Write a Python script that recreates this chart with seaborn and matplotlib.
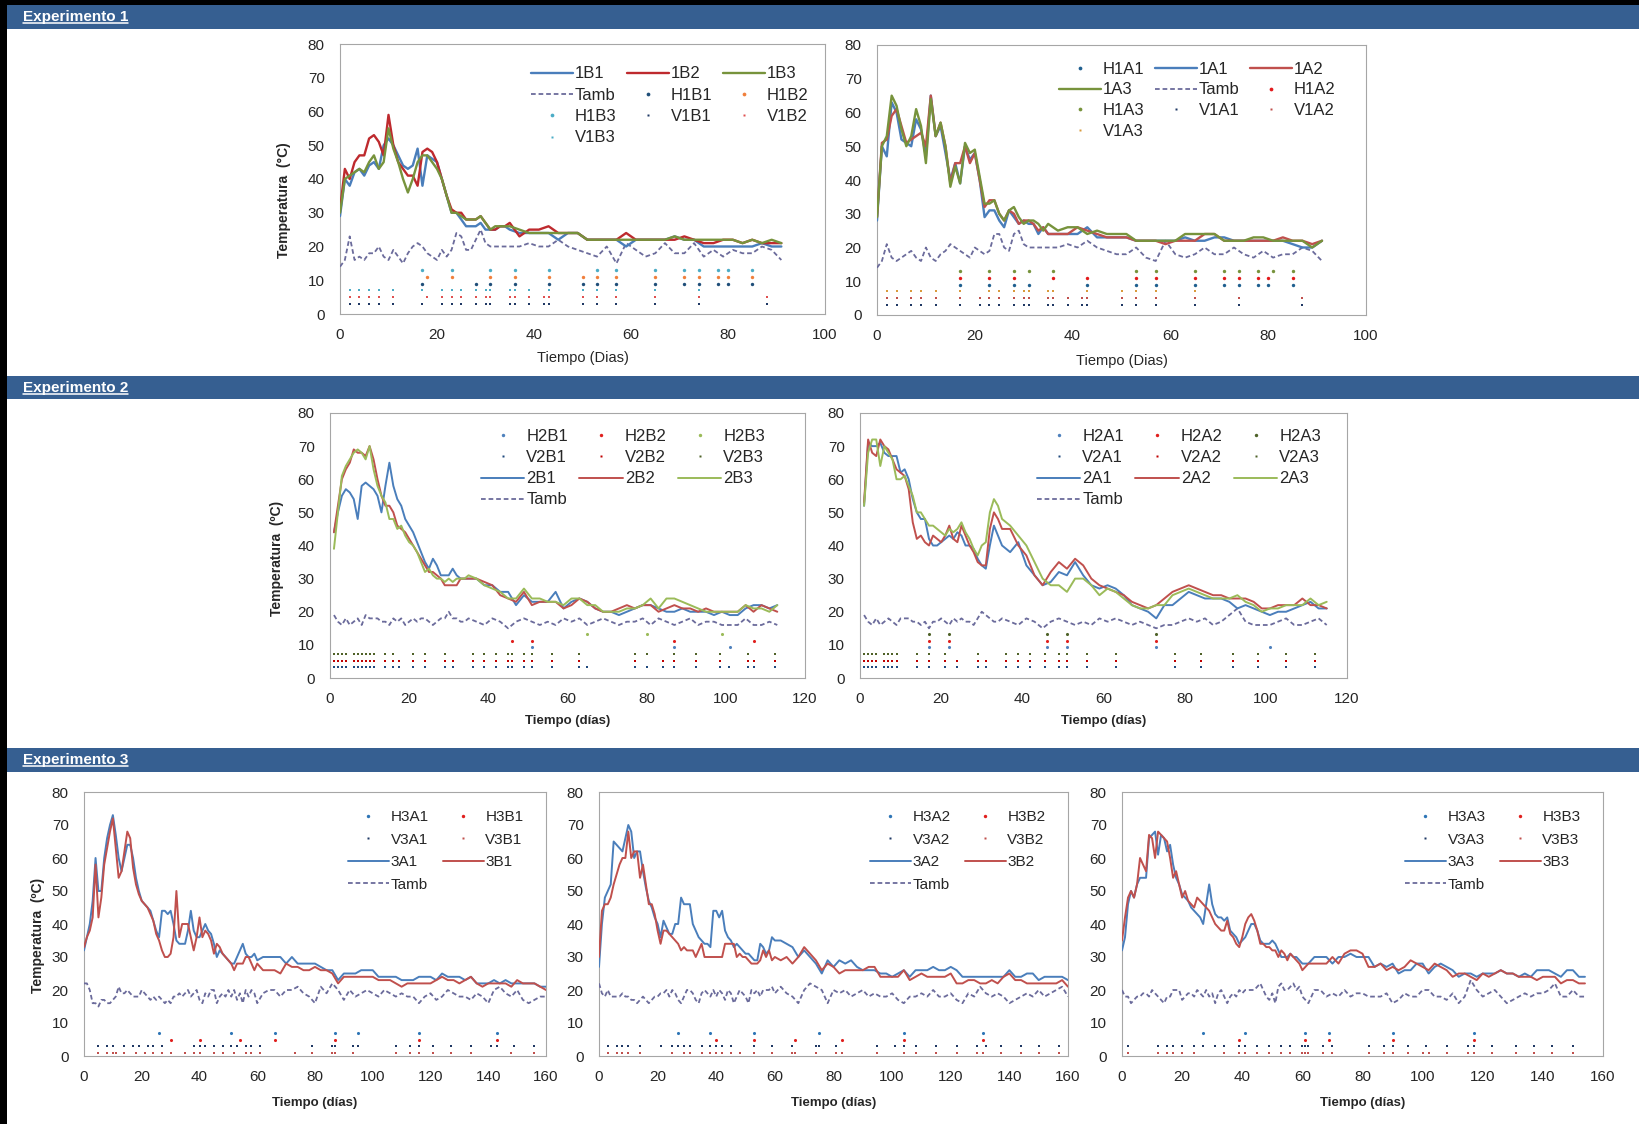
import numpy as np
import pandas as pd
import matplotlib
matplotlib.use("Agg")
import matplotlib.pyplot as plt
import seaborn as sns
from matplotlib.lines import Line2D
from matplotlib.patches import Rectangle

# ======================= DATA =======================
# ---- Experimento 1 ----
days_e1 = list(range(0, 36)) + list(range(37, 92, 2))
t_1B1 = [29, 40, 38, 42, 43, 41, 44, 45, 43, 50, 52, 50, 47, 44, 43, 44, 49, 38, 47, 46,
         45, 40, 35, 30, 30, 28, 26, 26, 26, 27, 25, 25, 25, 26, 26, 25,
         24, 24, 24, 24, 22, 24, 24, 22, 22, 22, 22, 20, 22, 22, 22, 22, 23, 22, 22, 20,
         20, 20, 20, 20, 20, 21, 20, 20]
t_1B2 = [31, 43, 40, 45, 47, 47, 52, 53, 51, 47, 59, 50, 45, 43, 41, 41, 38, 48, 49, 48,
         45, 40, 35, 31, 30, 30, 28, 28, 28, 29, 27, 25, 25, 26, 26, 27,
         23, 25, 25, 26, 24, 24, 24, 22, 22, 22, 22, 24, 22, 22, 22, 22, 22, 23, 22, 21,
         21, 22, 22, 21, 22, 21, 21, 21]
t_1B3 = [30, 40, 41, 42, 43, 42, 45, 47, 43, 45, 55, 49, 45, 40, 36, 40, 45, 47, 47, 45,
         43, 40, 35, 30, 30, 29, 28, 28, 28, 29, 27, 25, 26, 26, 26, 26,
         25, 24, 24, 24, 24, 24, 24, 22, 22, 22, 22, 22, 22, 22, 22, 22, 23, 22, 22, 22,
         22, 22, 22, 21, 22, 21, 22, 21]
tamb_1B = [14, 16, 23, 16, 17, 16, 18, 18, 20, 17, 16, 19, 17, 15, 18, 20, 21, 20, 18, 17,
           16, 19, 17, 19, 24, 23, 19, 19, 22, 25, 21, 20, 20, 20, 20, 20,
           20, 21, 20, 20, 22, 20, 19, 18, 17, 20, 15, 21, 19, 17, 18, 21, 18, 18, 21, 17,
           19, 17, 19, 18, 18, 20, 19, 16]
t_1A1 = [28, 50, 47, 63, 60, 52, 51, 50, 58, 55, 47, 65, 53, 56, 48, 40, 45, 39, 50, 46,
         48, 40, 29, 31, 31, 28, 26, 31, 29, 27, 28, 27, 27, 24, 26, 24,
         24, 24, 24, 26, 23, 23, 23, 23, 22, 22, 22, 22, 22, 23, 22, 22, 23, 23, 22, 22,
         22, 22, 22, 22, 21, 20, 20, 22]
t_1A2 = [29, 51, 52, 59, 61, 56, 51, 52, 53, 54, 50, 65, 53, 57, 50, 39, 45, 45, 50, 45,
         48, 40, 32, 34, 34, 30, 28, 31, 30, 27, 28, 28, 27, 25, 26, 24,
         24, 24, 26, 25, 24, 23, 23, 23, 22, 22, 22, 21, 22, 22, 22, 24, 24, 22, 22, 22,
         22, 22, 22, 23, 22, 22, 21, 22]
t_1A3 = [29, 50, 53, 65, 62, 55, 50, 53, 61, 56, 45, 64, 53, 57, 50, 38, 44, 39, 51, 48,
         49, 41, 33, 33, 34, 30, 28, 31, 32, 29, 27, 28, 28, 27, 25, 27,
         25, 26, 26, 24, 25, 24, 24, 24, 22, 22, 22, 22, 22, 24, 24, 24, 24, 22, 22, 22,
         23, 23, 22, 22, 22, 22, 20, 22]
tamb_1A = [14, 16, 21, 17, 16, 17, 18, 19, 17, 16, 20, 17, 16, 18, 19, 21, 20, 19, 18, 17,
           20, 19, 18, 19, 24, 24, 20, 19, 24, 25, 21, 20, 20, 20, 20, 20,
           20, 21, 20, 22, 20, 19, 18, 18, 20, 17, 16, 22, 18, 17, 18, 20, 18, 18, 20, 18,
           17, 19, 17, 18, 18, 20, 19, 16]
# event markers (day lists) and their plotting levels
h_1B1 = [17, 28, 31, 36, 43, 50, 53, 57, 65, 71, 74, 78, 80, 85]
h_1B2 = [18, 23, 31, 36, 43, 50, 53, 57, 65, 71, 74, 78, 80, 85]
h_1B3 = [17, 23, 31, 36, 43, 53, 57, 65, 71, 74, 78, 80, 85]
v_1B1 = [2, 4, 6, 8, 11, 17, 21, 23, 25, 28, 30, 31, 35, 36, 39, 42, 43, 50, 53, 57, 65, 74, 88]
v_1B2 = [2, 4, 6, 8, 11, 18, 21, 23, 25, 28, 30, 31, 35, 36, 39, 42, 43, 50, 53, 57, 65, 74, 88]
v_1B3 = [2, 4, 6, 8, 11, 17, 21, 23, 25, 28, 30, 31, 35, 36, 39, 43, 50, 53, 57, 65, 74]
h_1A1 = [17, 23, 28, 31, 43, 53, 57, 65, 71, 74, 78, 80, 85]
h_1A2 = [17, 23, 28, 36, 43, 53, 57, 65, 71, 74, 78, 80, 85]
h_1A3 = [17, 23, 28, 31, 36, 53, 57, 65, 71, 74, 78, 81, 85]
v_1A1 = [2, 4, 7, 9, 12, 17, 21, 23, 25, 28, 30, 31, 35, 36, 39, 42, 43, 50, 53, 57, 65, 74, 87]
v_1A2 = [2, 4, 7, 9, 12, 17, 21, 23, 25, 28, 30, 31, 35, 36, 39, 42, 43, 50, 53, 57, 65, 74, 87]
v_1A3 = [2, 4, 7, 9, 12, 17, 23, 25, 28, 30, 31, 35, 36, 43, 50, 53, 57, 65]
lev_e1 = {"H1": 9, "H2": 11, "H3": 13, "V1": 3, "V2": 5, "V3": 7}

# ---- Experimento 2 ----
days_e2B = list(range(1, 36)) + list(range(37, 114, 2))
t_2B1 = [44, 50, 55, 57, 56, 54, 48, 58, 59, 58, 57, 55, 50, 58, 65, 58, 54, 52, 48, 46,
         44, 41, 38, 35, 33, 36, 34, 31, 31, 31, 33, 31, 30, 30, 30,
         30, 28, 28, 26, 26, 22, 25, 23, 23, 23, 26, 21, 23, 24, 23, 21, 20, 20, 19, 20,
         21, 22, 22, 21, 20, 20, 21, 20, 20, 20, 19, 20, 19, 19, 21, 22, 22, 21, 22]
t_2B2 = [44, 52, 60, 63, 65, 69, 68, 68, 67, 70, 66, 60, 55, 52, 52, 50, 46, 45, 44, 42,
         40, 38, 36, 34, 32, 32, 31, 30, 28, 28, 28, 28, 30, 30, 30,
         30, 29, 28, 25, 24, 23, 26, 22, 23, 23, 23, 21, 22, 24, 23, 21, 20, 20, 21, 22,
         21, 22, 22, 20, 21, 22, 21, 21, 20, 21, 20, 20, 20, 20, 22, 20, 22, 21, 20]
t_2B3 = [39, 50, 61, 64, 66, 68, 69, 68, 66, 70, 63, 58, 55, 53, 48, 48, 45, 46, 43, 41,
         40, 38, 35, 32, 33, 31, 30, 30, 29, 30, 29, 30, 30, 30, 31,
         30, 28, 27, 26, 24, 24, 27, 24, 24, 23, 23, 22, 24, 24, 22, 22, 20, 20, 20, 21,
         21, 22, 24, 21, 24, 24, 23, 22, 21, 20, 20, 20, 20, 20, 22, 21, 21, 20, 22]
tamb_2B = [19, 17, 16, 18, 16, 17, 18, 16, 19, 18, 18, 18, 17, 17, 16, 18, 17, 18, 16, 17,
           18, 17, 18, 18, 17, 16, 17, 18, 18, 20, 18, 18, 17, 17, 18,
           17, 16, 18, 17, 15, 17, 18, 17, 16, 17, 16, 18, 17, 18, 16, 17, 18, 17, 16, 17,
           17, 18, 16, 18, 17, 16, 17, 18, 16, 17, 17, 16, 16, 16, 18, 16, 16, 17, 16]
days_e2A = list(range(1, 36)) + list(range(37, 116, 2))
t_2A1 = [52, 71, 70, 70, 71, 68, 67, 67, 67, 62, 63, 60, 54, 50, 48, 48, 42, 40, 40, 41,
         42, 43, 42, 44, 43, 40, 40, 39, 36, 34, 33, 40, 46, 43, 40,
         38, 41, 34, 31, 28, 29, 32, 31, 35, 31, 28, 27, 28, 27, 25, 22, 21, 20, 18, 22,
         22, 24, 26, 25, 24, 24, 24, 23, 21, 22, 21, 20, 19, 20, 20, 21, 22, 23, 21, 21]
t_2A2 = [53, 72, 68, 67, 72, 70, 69, 66, 63, 62, 61, 57, 47, 42, 43, 41, 40, 43, 42, 41,
         43, 46, 42, 41, 46, 43, 40, 38, 35, 34, 34, 45, 50, 48, 45,
         45, 40, 37, 31, 28, 32, 35, 33, 36, 34, 30, 28, 27, 26, 25, 23, 22, 21, 22, 24,
         26, 27, 28, 27, 26, 25, 25, 24, 24, 24, 23, 21, 21, 22, 22, 22, 24, 22, 22, 21]
t_2A3 = [52, 68, 72, 72, 64, 70, 68, 66, 60, 60, 61, 58, 55, 50, 50, 48, 46, 46, 45, 44,
         43, 45, 44, 45, 47, 44, 42, 39, 37, 40, 41, 50, 54, 52, 48,
         46, 43, 40, 35, 30, 28, 28, 26, 30, 30, 28, 25, 27, 26, 24, 22, 21, 21, 22, 22,
         25, 26, 27, 26, 25, 24, 24, 24, 25, 23, 22, 20, 21, 21, 22, 22, 22, 24, 22, 23]
tamb_2A = [19, 17, 16, 18, 16, 17, 18, 17, 16, 18, 18, 18, 17, 17, 16, 17, 15, 17, 17, 18,
           17, 16, 18, 17, 18, 17, 17, 16, 18, 20, 19, 18, 17, 17, 18,
           17, 16, 18, 17, 15, 17, 18, 17, 16, 17, 16, 18, 17, 18, 17, 16, 17, 16, 15, 16,
           16, 17, 18, 17, 18, 16, 17, 19, 21, 17, 16, 16, 16, 17, 18, 16, 16, 17, 18, 16]
h_2B1 = [51, 87, 101]
h_2B2 = [46, 51, 87, 107]
h_2B3 = [65, 80, 99]
v_2B1 = [1, 2, 3, 4, 6, 7, 8, 9, 10, 11, 14, 16, 17.5, 21, 24, 29, 31, 36, 39, 42, 45, 46, 49,
         51, 56, 63, 65, 77, 80, 84, 87, 92.5, 98.6, 100.8, 105.5, 107, 112.5]
v_2B2 = [1, 2, 3, 4, 6, 7, 8, 9, 10, 11, 14, 16, 17.5, 21, 24, 29, 31, 36, 39, 42, 45, 46, 49,
         51, 56, 63, 77, 84, 87, 92.5, 98.6, 105.5, 107, 112.5]
v_2B3 = [1, 2, 3, 4, 6, 7, 8, 9, 10, 11, 14, 16, 21, 24, 29, 36, 39, 42, 45, 46, 49, 51,
         56, 63, 77, 80, 87, 92.5, 98.6, 105.5, 112.5]
h_2A1 = [17, 22, 46, 51, 73, 101]
h_2A2 = [17, 22, 46, 51, 73]
h_2A3 = [17, 22, 46, 51, 73]
v_2A1 = [1, 2, 3, 4, 6, 7, 8, 9, 14, 17, 21, 24, 29, 31, 36, 39, 42, 45.5, 49, 51, 56, 63,
         77.5, 84, 92, 98, 105, 112]
v_2A2 = [1, 2, 3, 4, 6, 7, 8, 9, 14, 17, 21, 24, 29, 31, 36, 39, 42, 45.5, 49, 51, 56, 63,
         77.5, 84, 92, 98, 105, 112]
v_2A3 = [1, 2, 3, 4, 6, 7, 8, 9, 14, 17, 21, 29, 36, 39, 42, 45.5, 49, 51, 56, 63, 77.5,
         84, 92, 98, 105, 112]
lev_e2 = {"H1": 9.25, "H2": 11.25, "H3": 13.25, "V1": 3.25, "V2": 5.25, "V3": 7.25}

# ---- Experimento 3 ----
days_e3 = list(range(0, 61)) + list(range(62, 161, 2))
t_3A1 = [32, 36, 40, 47, 60, 50, 50, 60, 66, 70, 73, 67, 60, 56, 60, 64, 64, 60, 54, 50,
         47, 46, 45, 44, 41, 38, 36, 44, 44, 43, 44, 40, 35, 34, 34, 34, 38, 44, 38, 36,
         36, 38, 40, 38, 37, 34, 30, 32, 31, 30, 29, 28, 28, 30, 32, 34, 31, 30, 30, 31, 29,
         30, 30, 30, 30, 28, 30, 28, 28, 28, 28, 27, 26, 26, 23, 25, 25, 25, 26, 26, 26,
         24, 24, 24, 24, 23, 23, 23, 24, 24, 24, 23, 25, 24, 24, 24, 23, 24, 22, 22, 22,
         23, 22, 23, 22, 22, 22, 22, 22, 21, 21]
t_3B1 = [33, 36, 38, 42, 58, 42, 48, 58, 63, 68, 72, 63, 54, 56, 62, 68, 66, 57, 52, 49,
         47, 46, 45, 43, 41, 37, 35, 32, 30, 30, 31, 36, 50, 36, 40, 40, 40, 36, 32, 36,
         42, 36, 38, 37, 35, 31, 34, 33, 31, 30, 29, 28, 26, 28, 28, 28, 30, 30, 28, 26, 28,
         26, 26, 26, 25, 28, 27, 27, 26, 26, 27, 26, 26, 25, 22, 24, 24, 24, 24, 24, 24,
         23, 23, 23, 22, 21, 22, 22, 22, 22, 22, 23, 24, 23, 23, 22, 23, 24, 22, 21, 22,
         22, 22, 22, 21, 23, 22, 22, 22, 21, 20]
tamb_3_1 = [22, 22, 20, 16, 16, 15, 17, 17, 16, 16, 17, 18, 21, 19, 19, 20, 19, 18, 18, 18,
            20, 19, 18, 17, 18, 17, 18, 17, 16, 17, 16, 18, 18, 19, 18, 19, 20, 18, 19, 20,
            17, 16, 19, 18, 20, 20, 16, 18, 19, 18, 20, 18, 20, 17, 19, 16, 20, 18, 20, 19, 16,
            19, 20, 20, 18, 20, 20, 21, 19, 18, 16, 21, 19, 22, 20, 17, 20, 18, 19, 20, 19,
            18, 20, 19, 18, 19, 18, 18, 16, 18, 19, 17, 18, 20, 19, 18, 18, 17, 19, 18, 16,
            20, 21, 19, 18, 20, 17, 16, 17, 18, 18]
t_3A2 = [27, 40, 48, 50, 52, 65, 64, 63, 62, 66, 70, 68, 60, 62, 62, 56, 51, 47, 45, 42,
         40, 36, 41, 39, 37, 37, 40, 40, 48, 46, 46, 46, 40, 38, 36, 35, 34, 34, 33, 44,
         44, 42, 44, 38, 36, 35, 33, 34, 33, 32, 31, 31, 30, 29, 29, 34, 33, 31, 32, 36, 35,
         35, 34, 33, 30, 32, 30, 28, 25, 29, 27, 29, 28, 29, 27, 26, 26, 26, 25, 25, 24,
         25, 26, 24, 26, 26, 26, 27, 26, 26, 27, 26, 24, 24, 24, 24, 24, 24, 24, 24, 26,
         24, 24, 25, 25, 23, 24, 24, 24, 24, 23]
t_3B2 = [30, 44, 46, 46, 48, 52, 55, 58, 60, 60, 68, 60, 62, 62, 54, 58, 52, 46, 46, 43,
         38, 34, 38, 38, 37, 36, 35, 34, 32, 33, 32, 32, 32, 30, 32, 34, 30, 30, 30, 30,
         30, 30, 30, 34, 34, 34, 34, 30, 31, 30, 30, 29, 28, 28, 28, 29, 32, 30, 32, 29, 30,
         29, 30, 28, 30, 33, 31, 29, 26, 28, 27, 25, 26, 26, 26, 26, 27, 27, 24, 24, 24,
         24, 26, 23, 24, 25, 24, 24, 24, 24, 25, 22, 22, 23, 23, 22, 22, 23, 22, 24, 25,
         23, 23, 22, 22, 22, 22, 22, 22, 23, 21]
tamb_3_2 = [22, 19, 18, 20, 18, 18, 18, 18, 19, 18, 18, 17, 17, 16, 17, 18, 17, 16, 17, 18,
            18, 19, 19, 20, 18, 20, 19, 17, 16, 18, 20, 20, 19, 17, 16, 19, 20, 19, 18, 20,
            18, 20, 19, 17, 20, 19, 16, 18, 20, 19, 18, 16, 20, 19, 20, 18, 20, 20, 20, 21, 19,
            21, 19, 18, 16, 20, 22, 21, 20, 16, 20, 19, 20, 18, 19, 20, 18, 19, 18, 18, 19,
            17, 16, 18, 18, 19, 18, 20, 18, 18, 19, 17, 16, 19, 18, 21, 19, 18, 19, 18, 16,
            17, 18, 19, 18, 20, 18, 19, 20, 21, 18]
days_e3c = list(range(0, 61)) + list(range(62, 155, 2))
t_3A3 = [32, 36, 46, 50, 48, 52, 54, 54, 54, 66, 67, 68, 61, 67, 66, 62, 64, 58, 54, 52,
         49, 48, 47, 45, 44, 43, 42, 40, 46, 52, 46, 43, 42, 42, 41, 42, 38, 37, 36, 34,
         35, 36, 38, 40, 40, 38, 35, 34, 34, 34, 35, 34, 32, 30, 30, 30, 31, 30, 30, 29, 28,
         28, 30, 30, 30, 28, 30, 30, 31, 30, 30, 30, 27, 28, 27, 28, 25, 26, 26, 28, 28,
         25, 27, 28, 27, 26, 24, 25, 25, 24, 25, 25, 25, 26, 25, 25, 24, 25, 24, 26, 26,
         26, 25, 24, 26, 26, 24, 24]
t_3B3 = [35, 42, 48, 50, 48, 52, 60, 58, 56, 67, 66, 60, 68, 67, 66, 65, 60, 54, 56, 52,
         48, 50, 47, 46, 45, 48, 47, 46, 45, 44, 42, 40, 39, 38, 38, 41, 37, 36, 34, 33,
         36, 40, 42, 43, 41, 38, 34, 34, 33, 33, 32, 32, 30, 32, 31, 29, 31, 30, 29, 28, 26,
         28, 28, 28, 28, 30, 28, 31, 32, 32, 31, 27, 27, 28, 26, 27, 26, 27, 29, 28, 27,
         26, 28, 27, 26, 24, 25, 25, 24, 23, 25, 24, 25, 26, 25, 25, 24, 24, 24, 23, 24,
         24, 24, 22, 23, 23, 22, 22]
tamb_3_3 = [20, 18, 18, 16, 17, 18, 18, 19, 19, 18, 20, 19, 18, 17, 16, 18, 18, 20, 20, 20,
            17, 18, 19, 19, 18, 20, 19, 18, 20, 18, 19, 16, 19, 20, 18, 16, 18, 19, 18, 20,
            19, 20, 20, 20, 20, 21, 22, 20, 18, 17, 19, 16, 21, 22, 20, 20, 21, 22, 20, 21, 18,
            16, 20, 20, 18, 19, 18, 20, 18, 19, 19, 18, 18, 18, 19, 16, 17, 19, 18, 18, 20,
            20, 18, 18, 17, 19, 16, 18, 23, 20, 18, 19, 20, 18, 16, 17, 18, 19, 18, 19, 19,
            20, 22, 18, 18, 20, 18, 18]
h_3A1 = [26, 51, 66, 87, 95, 116, 143]
h_3B1 = [30, 40, 54, 66, 87, 116, 143]
v_3A1 = [5, 8, 10, 14, 17, 19, 22, 24, 27, 38, 40, 42, 45, 48, 51, 53, 56, 58, 61, 79, 86,
         87, 93, 95, 108, 113, 116, 121, 127, 134, 141, 143, 149, 156]
v_3B1 = [5, 8, 10, 11, 14, 18, 21, 24, 27, 30, 35, 38, 40, 45, 48, 52, 56, 58, 61, 73, 79,
         86, 87, 93, 108, 113, 116, 121, 127, 134, 148, 156]
h_3A2 = [27, 38, 53, 75, 104, 131]
h_3B2 = [40, 53, 67, 83, 104, 131]
v_3A2 = [3, 6, 8, 10, 14, 21, 25, 27, 29, 31, 35, 38, 40, 42, 45, 53, 59, 66, 74, 75, 81,
         95, 101, 104, 108, 115, 122, 129, 132, 137, 144, 150, 157]
v_3B2 = [3, 6, 8, 10, 14, 25, 29, 31, 35, 38, 40, 42, 45, 48, 53, 59, 66, 67, 74, 81, 83,
         95, 104, 108, 115, 122, 129, 131, 137, 144, 150, 157]
h_3A3 = [27, 41, 61, 69, 90, 117]
h_3B3 = [39, 61, 69, 90, 117]
v_3A3 = [2, 12, 15, 17, 20, 24, 27, 31, 34, 39, 41, 45, 49, 53, 56, 60, 61, 62, 67, 70, 82,
         87, 90, 95, 101, 108, 115, 117, 123, 131, 137, 143, 150]
v_3B3 = [2, 12, 15, 17, 20, 24, 34, 39, 41, 45, 49, 53, 56, 60, 61, 62, 67, 70, 82, 87, 90,
         95, 100, 102, 108, 115, 117, 123, 131, 137, 143, 150]
lev_e3 = {"HA": 7, "HB": 5, "VA": 3, "VB": 1}

# ======================= STYLE =======================
W, H, DPI = 1639, 1124, 100
sns.set_theme(style="white")
plt.rcParams["font.family"] = ["Liberation Sans", "DejaVu Sans"]

BAR = "#365F91"
BLUE = "#4A7EBB"
RED1 = "#BE2A2E"
RED = "#C0504D"
GRN1 = "#77933C"
GRN2 = "#9BBB59"
TAMB = "#6B6B9B"
TXT = "#262626"
DASH = (0, (2.6, 1.6))

fig = plt.figure(figsize=(W / DPI, H / DPI), dpi=DPI)
fig.patch.set_facecolor("white")


def frect(x0, y0, x1, y1, color):
    fig.add_artist(Rectangle((x0 / W, 1 - y1 / H), (x1 - x0) / W, (y1 - y0) / H,
                             transform=fig.transFigure, facecolor=color,
                             edgecolor="none", zorder=0))


# outer border pieces and section bars
frect(0, 0, W, 5, "black")
frect(0, 0, 7, H, "black")
for (ya, yb) in [(5, 29), (376, 399), (748, 772)]:
    frect(7, ya, W, yb, BAR)

headers = []
for txt, yc in [("Experimento 1", 17), ("Experimento 2", 388), ("Experimento 3", 760)]:
    headers.append(fig.text(23 / W, 1 - yc / H, txt, color="white", fontsize=11,
                            fontweight="bold", ha="left", va="center"))


def colmajor(items, ncol):
    nrow = -(-len(items) // ncol)
    out = []
    for c in range(ncol):
        for r in range(nrow):
            i = r * ncol + c
            if i < len(items):
                out.append(items[i])
    return out


def panel(box, xmax, lines, points, order, ncol, leg_xy, fs_leg, hlen, csp, lsp, lw,
          xlabel, xlab_y, xlab_bold, xlab_fs, ylabel=None, ylab_xy=None):
    x0, y0, x1, y1 = box
    ax = fig.add_axes([x0 / W, 1 - y1 / H, (x1 - x0) / W, (y1 - y0) / H])
    handles = {}
    for (lab, d, v, col) in lines:
        if lab == "Tamb":
            sns.lineplot(x=d, y=v, ax=ax, color=col, linewidth=1.3, linestyle=DASH,
                         estimator=None, sort=False, legend=False, zorder=3)
            handles[lab] = Line2D([], [], color=col, lw=1.3, linestyle=DASH)
        else:
            sns.lineplot(x=d, y=v, ax=ax, color=col, linewidth=lw,
                         estimator=None, sort=False, legend=False, zorder=4)
            handles[lab] = Line2D([], [], color=col, lw=lw)
    for (lab, d, lev, col, mk, s) in points:
        sns.scatterplot(x=d, y=[lev] * len(d), ax=ax, color=col, marker=mk, s=s,
                        linewidth=0, legend=False, zorder=2)
        handles[lab] = Line2D([], [], ls="none", marker=mk, ms=np.sqrt(s) * 1.1,
                              color=col, mec="none")
    ax.set_xlim(0, xmax)
    ax.set_ylim(0, 80)
    ax.set_xticks(range(0, xmax + 1, 20))
    ax.set_yticks(range(0, 81, 10))
    ax.tick_params(axis="both", length=0, labelsize=11, labelcolor=TXT)
    ax.tick_params(axis="x", pad=10)
    ax.tick_params(axis="y", pad=11)
    for s in ax.spines.values():
        s.set_color("#A6A6A6")
        s.set_linewidth(0.8)
    ax.set_xlabel(xlabel, fontsize=xlab_fs, fontweight="bold" if xlab_bold else "normal",
                  color=TXT)
    ax.xaxis.label.set_verticalalignment("center")
    ax.xaxis.set_label_coords(0.5, xlab_y)
    if ylabel:
        ax.set_ylabel(ylabel, fontsize=10, fontweight="bold", color=TXT)
        ax.yaxis.label.set_verticalalignment("center")
        ax.yaxis.set_label_coords(*ylab_xy)
    else:
        ax.set_ylabel("")
    labs = colmajor(order, ncol)
    ax.legend([handles[l] for l in labs], labs, loc="upper left",
              bbox_to_anchor=(leg_xy[0] / W, 1 - leg_xy[1] / H),
              bbox_transform=fig.transFigure, ncol=ncol, frameon=False,
              fontsize=fs_leg, handlelength=hlen, handletextpad=0.12,
              columnspacing=csp, labelspacing=lsp, borderpad=0, borderaxespad=0,
              labelcolor=TXT)
    return ax


# ---------------- Experimento 1 ----------------
mkH1, mkV1 = 6, 2.5
panel((340, 44, 825, 314), 100,
      [("1B1", days_e1, t_1B1, BLUE), ("1B2", days_e1, t_1B2, RED1),
       ("1B3", days_e1, t_1B3, GRN1), ("Tamb", days_e1, tamb_1B, TAMB)],
      [("H1B1", h_1B1, lev_e1["H1"], "#1F4E79", "o", mkH1),
       ("H1B2", h_1B2, lev_e1["H2"], "#F07F3C", "o", mkH1),
       ("H1B3", h_1B3, lev_e1["H3"], "#4BACC6", "o", mkH1),
       ("V1B1", v_1B1, lev_e1["V1"], "#1F3864", "s", mkV1),
       ("V1B2", v_1B2, lev_e1["V2"], "#E05050", "s", mkV1),
       ("V1B3", v_1B3, lev_e1["V3"], "#4BACC6", "s", mkV1)],
      ["1B1", "1B2", "1B3", "Tamb", "H1B1", "H1B2", "H1B3", "V1B1", "V1B2", "V1B3"],
      3, (531, 66.5), 12, 2.5, 0.65, 0.38, 1.7,
      "Tiempo (Dias)", -0.163, False, 10.5,
      "Temperatura  (°C)", (-0.1155, 0.42))

panel((877, 45, 1366, 315), 100,
      [("1A1", days_e1, t_1A1, BLUE), ("1A2", days_e1, t_1A2, RED),
       ("1A3", days_e1, t_1A3, GRN1), ("Tamb", days_e1, tamb_1A, TAMB)],
      [("H1A1", h_1A1, lev_e1["H1"], "#1F5F8F", "o", mkH1),
       ("H1A2", h_1A2, lev_e1["H2"], "#E31A1C", "o", mkH1),
       ("H1A3", h_1A3, lev_e1["H3"], GRN1, "o", mkH1),
       ("V1A1", v_1A1, lev_e1["V1"], "#1F3864", "s", mkV1),
       ("V1A2", v_1A2, lev_e1["V2"], RED, "s", mkV1),
       ("V1A3", v_1A3, lev_e1["V3"], "#D99A3C", "s", mkV1)],
      ["H1A1", "1A1", "1A2", "1A3", "Tamb", "H1A2", "H1A3", "V1A1", "V1A2", "V1A3"],
      3, (1059, 62), 12, 2.5, 0.65, 0.33, 1.7,
      "Tiempo (Dias)", -0.170, False, 10.5)

# ---------------- Experimento 2 ----------------
mkH2, mkV2 = 5, 3
panel((330, 413, 805, 678), 120,
      [("2B1", days_e2B, t_2B1, BLUE), ("2B2", days_e2B, t_2B2, RED),
       ("2B3", days_e2B, t_2B3, GRN2), ("Tamb", days_e2B, tamb_2B, TAMB)],
      [("H2B1", h_2B1, lev_e2["H1"], "#4F81BD", "o", mkH2),
       ("H2B2", h_2B2, lev_e2["H2"], "#E0201E", "o", mkH2),
       ("H2B3", h_2B3, lev_e2["H3"], GRN2, "o", mkH2),
       ("V2B1", v_2B1, lev_e2["V1"], "#1F497D", "s", mkV2),
       ("V2B2", v_2B2, lev_e2["V2"], "#C00000", "s", mkV2),
       ("V2B3", v_2B3, lev_e2["V3"], "#4F6228", "s", mkV2)],
      ["H2B1", "H2B2", "H2B3", "V2B1", "V2B2", "V2B3", "2B1", "2B2", "2B3", "Tamb"],
      3, (481, 429), 12, 2.6, 0.68, 0.37, 1.4,
      "Tiempo (días)", -0.164, True, 9.5,
      "Temperatura  (ºC)", (-0.1116, 0.453))

panel((860, 413, 1347, 678), 120,
      [("2A1", days_e2A, t_2A1, BLUE), ("2A2", days_e2A, t_2A2, RED),
       ("2A3", days_e2A, t_2A3, GRN2), ("Tamb", days_e2A, tamb_2A, TAMB)],
      [("H2A1", h_2A1, lev_e2["H1"], "#4F81BD", "o", mkH2),
       ("H2A2", h_2A2, lev_e2["H2"], "#E0201E", "o", mkH2),
       ("H2A3", h_2A3, lev_e2["H3"], "#4F6228", "o", mkH2),
       ("V2A1", v_2A1, lev_e2["V1"], "#1F497D", "s", mkV2),
       ("V2A2", v_2A2, lev_e2["V2"], "#C00000", "s", mkV2),
       ("V2A3", v_2A3, lev_e2["V3"], "#4F6228", "s", mkV2)],
      ["H2A1", "H2A2", "H2A3", "V2A1", "V2A2", "V2A3", "2A1", "2A2", "2A3", "Tamb"],
      3, (1037, 429), 12, 2.6, 0.68, 0.37, 1.4,
      "Tiempo (días)", -0.164, True, 9.5)

# ---------------- Experimento 3 ----------------
mkH3, mkV3 = 5, 3
e3 = [((84, 792, 546, 1056), "1", days_e3, t_3A1, t_3B1, tamb_3_1, h_3A1, h_3B1, v_3A1, v_3B1, (348, 810)),
      ((599, 792, 1068, 1056), "2", days_e3, t_3A2, t_3B2, tamb_3_2, h_3A2, h_3B2, v_3A2, v_3B2, (870, 810)),
      ((1122, 792, 1603, 1056), "3", days_e3c, t_3A3, t_3B3, tamb_3_3, h_3A3, h_3B3, v_3A3, v_3B3, (1405, 810))]
for i, (box, k, dd, ta, tb, tm, ha, hb, va, vb, lxy) in enumerate(e3):
    panel(box, 160,
          [(f"3A{k}", dd, ta, BLUE), (f"3B{k}", dd, tb, RED), ("Tamb", dd, tm, TAMB)],
          [(f"H3A{k}", ha, lev_e3["HA"], "#2E75B6", "o", mkH3),
           (f"H3B{k}", hb, lev_e3["HB"], "#E0201E", "o", mkH3),
           (f"V3A{k}", va, lev_e3["VA"], "#1F3864", "s", mkV3),
           (f"V3B{k}", vb, lev_e3["VB"], RED, "s", mkV3)],
          [f"H3A{k}", f"H3B{k}", f"V3A{k}", f"V3B{k}", f"3A{k}", f"3B{k}", "Tamb"],
          2, lxy, 11, 2.68, 0.9, 0.56, 1.4,
          "Tiempo (días)", -0.178, True, 9.5,
          "Temperatura  (ºC)" if i == 0 else None, (-0.1006, 0.455))

# underline the section headers
fig.canvas.draw()
rend = fig.canvas.get_renderer()
for t in headers:
    bb = t.get_window_extent(rend)
    yy = (bb.y0 + 1.0) / H
    fig.add_artist(Line2D([bb.x0 / W, bb.x1 / W], [yy, yy], transform=fig.transFigure,
                          color="white", lw=1.1, zorder=5))

fig.savefig("out.png", dpi=DPI, facecolor="white")
